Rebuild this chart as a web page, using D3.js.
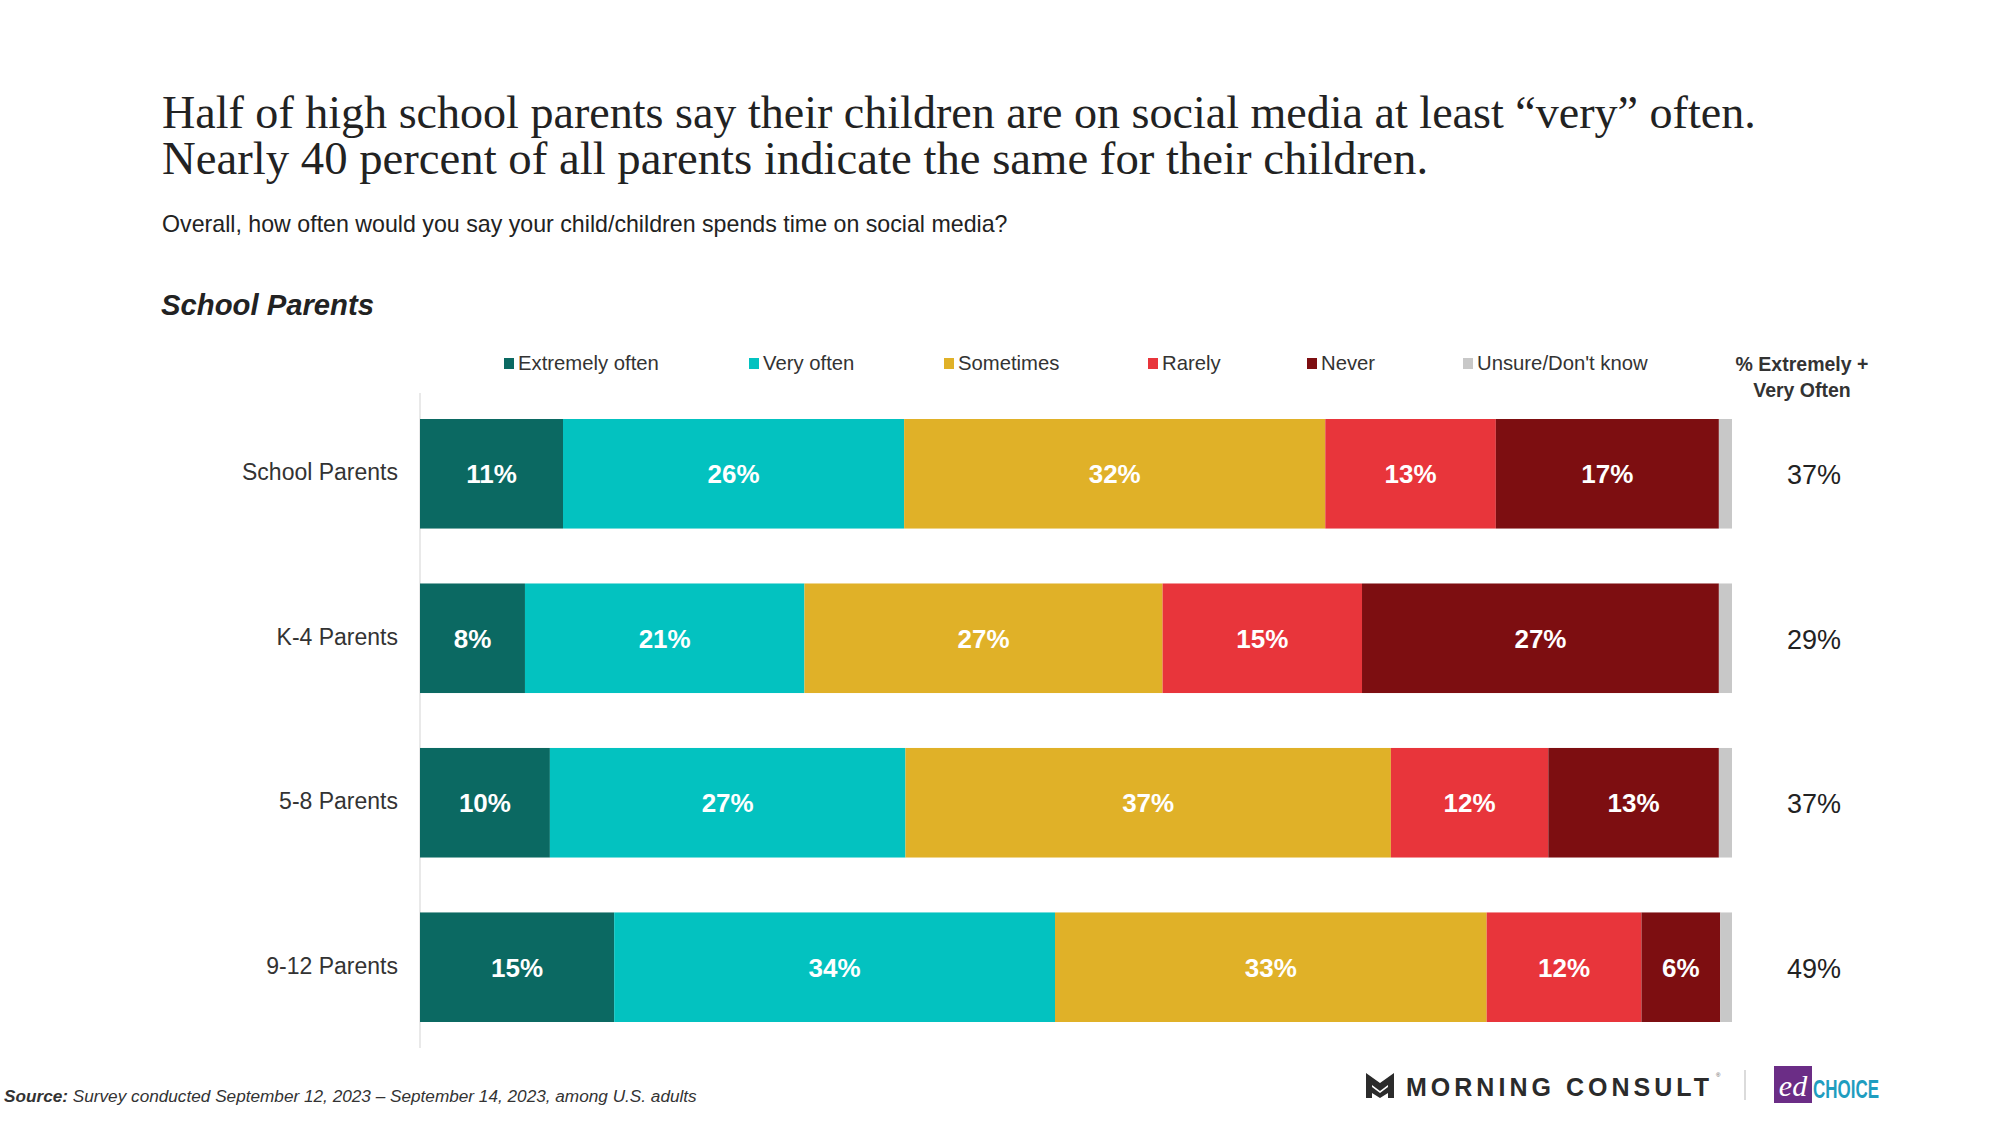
<!DOCTYPE html>
<html>
<head>
<meta charset="utf-8">
<script src="https://cdn.jsdelivr.net/npm/d3@7"></script>
<style>
html,body{margin:0;padding:0;background:#fff;}
svg{display:block;}
</style>
</head>
<body>
<svg id="chart" width="2000" height="1123"></svg>
<script>
// ---- data ----
const titleLines = [
  "Half of high school parents say their children are on social media at least \u201cvery\u201d often.",
  "Nearly 40 percent of all parents indicate the same for their children."
];
const subtitle = "Overall, how often would you say your child/children spends time on social media?";
const sectionTitle = "School Parents";
const categories = ["School Parents", "K-4 Parents", "5-8 Parents", "9-12 Parents"];
const seriesNames = ["Extremely often", "Very often", "Sometimes", "Rarely", "Never", "Unsure/Don't know"];
const extremelyOften = [10.9, 8.0, 9.9, 14.8];
const veryOften      = [26.0, 21.3, 27.1, 33.6];
const sometimes      = [32.1, 27.3, 37.0, 32.9];
const rarely         = [13.0, 15.2, 12.0, 11.8];
const never          = [17.0, 27.2, 13.0, 6.0];
const unsure         = [1.0, 1.0, 1.0, 0.9];
const barLabels = [
  ["11%", "26%", "32%", "13%", "17%"],
  ["8%", "21%", "27%", "15%", "27%"],
  ["10%", "27%", "37%", "12%", "13%"],
  ["15%", "34%", "33%", "12%", "6%"]
];
const totalHeader = ["% Extremely +", "Very Often"];
const totals = ["37%", "29%", "37%", "49%"];
const colors = ["#0b6962", "#03c2c0", "#e0b128", "#e8353b", "#7d0e11", "#c8c8c8"];
const sourceLabel = "Source:";
const sourceText = " Survey conducted September 12, 2023 \u2013 September 14, 2023, among U.S. adults";

// ---- build ----
const svg = d3.select("#chart");
const sans = "Arial, 'Liberation Sans', Helvetica, sans-serif";
const serif = "Georgia, 'Liberation Serif', 'DejaVu Serif', serif";

function fitText(sel, target) {
  const w = sel.node().getComputedTextLength();
  const fs = parseFloat(sel.attr("font-size"));
  sel.attr("font-size", (fs * target / w).toFixed(2));
}

// Title
const titleTargets = [1594, 1266];
titleLines.forEach((t, i) => {
  const tx = svg.append("text")
    .attr("x", 162).attr("y", 128 + i * 46)
    .attr("font-family", serif).attr("font-size", 42)
    .attr("fill", "#222").text(t);
  fitText(tx, titleTargets[i]);
});

const sub = svg.append("text").attr("x", 162).attr("y", 232)
  .attr("font-family", sans).attr("font-size", 22).attr("fill", "#222").text(subtitle);
fitText(sub, 846);

const sec = svg.append("text").attr("x", 161).attr("y", 315)
  .attr("font-family", sans).attr("font-size", 27).attr("font-weight", "bold")
  .attr("font-style", "italic").attr("fill", "#222").text(sectionTitle);
fitText(sec, 213);

// Scales
const x = d3.scaleLinear().domain([0, 100]).range([420, 1732]);
const y = d3.scaleBand().domain(categories).range([419, 1022]).paddingInner(0.334).paddingOuter(0);

const rows = categories.map((c, i) => ({
  cat: c,
  "Extremely often": extremelyOften[i],
  "Very often": veryOften[i],
  "Sometimes": sometimes[i],
  "Rarely": rarely[i],
  "Never": never[i],
  "Unsure/Don't know": unsure[i]
}));
const stack = d3.stack().keys(seriesNames)(rows);
const color = d3.scaleOrdinal().domain(seriesNames).range(colors);

// axis line
svg.append("line").attr("x1", x(0)).attr("x2", x(0)).attr("y1", 393).attr("y2", 1048)
  .attr("stroke", "#e2e2e2").attr("stroke-width", 1.5);

const layers = svg.append("g").selectAll("g").data(stack).join("g")
  .attr("fill", d => color(d.key));
layers.selectAll("rect").data(d => d).join("rect")
  .attr("x", d => x(d[0]))
  .attr("y", d => y(d.data.cat))
  .attr("width", d => x(d[1]) - x(d[0]))
  .attr("height", y.bandwidth());

// bar labels
stack.slice(0, 5).forEach((layer, si) => {
  svg.append("g").selectAll("text").data(layer).join("text")
    .attr("x", d => (x(d[0]) + x(d[1])) / 2)
    .attr("y", d => y(d.data.cat) + y.bandwidth() / 2)
    .attr("dy", "0.36em")
    .attr("text-anchor", "middle")
    .attr("font-family", sans).attr("font-size", 26).attr("font-weight", "bold")
    .attr("fill", "#fff")
    .text((d, i) => barLabels[i][si]);
});

// category labels
svg.append("g").selectAll("text").data(categories).join("text")
  .attr("x", 398)
  .attr("y", d => y(d) + y.bandwidth() / 2 - 2)
  .attr("dy", "0.36em")
  .attr("text-anchor", "end")
  .attr("font-family", sans).attr("font-size", 23).attr("fill", "#333")
  .text(d => d);

// totals
svg.append("g").selectAll("text").data(categories).join("text")
  .attr("x", 1814)
  .attr("y", d => y(d) + y.bandwidth() / 2 + 1)
  .attr("dy", "0.36em")
  .attr("text-anchor", "middle")
  .attr("font-family", sans).attr("font-size", 27).attr("fill", "#222")
  .text((d, i) => totals[i]);

totalHeader.forEach((t, i) => {
  svg.append("text").attr("x", 1802).attr("y", 371 + i * 26)
    .attr("text-anchor", "middle")
    .attr("font-family", sans).attr("font-size", 19.5).attr("font-weight", "bold")
    .attr("fill", "#333").text(t);
});

// legend
const legendX = [504, 749, 944, 1148, 1307, 1463];
const lg = svg.append("g").selectAll("g").data(seriesNames).join("g")
  .attr("transform", (d, i) => `translate(${legendX[i]},363)`);
lg.append("rect").attr("x", 0).attr("y", -5).attr("width", 10).attr("height", 11)
  .attr("fill", d => color(d));
lg.append("text").attr("x", 14).attr("y", 0).attr("dy", "0.36em")
  .attr("font-family", sans).attr("font-size", 20.3).attr("fill", "#333")
  .text(d => d);

// source
const src = svg.append("text").attr("x", 4).attr("y", 1102)
  .attr("font-family", sans).attr("font-size", 17.2).attr("font-style", "italic").attr("fill", "#333");
src.append("tspan").attr("font-weight", "bold").text(sourceLabel);
src.append("tspan").text(sourceText);

// logos
const mc = svg.append("g").attr("transform", "translate(1366,1073)");
mc.append("path")
  .attr("d", "M0,0 L14,10 L28,0 L28,25 L22,25 L22,12 L14,18 L6,12 L6,25 L0,25 Z")
  .attr("fill", "#2b2b2b");
mc.append("path").attr("d", "M6,14 L14,20 L22,14 L22,20 L14,25 L6,20 Z").attr("fill", "#2b2b2b");
mc.append("text").attr("x", 40).attr("y", 23)
  .attr("font-family", sans).attr("font-size", 25).attr("font-weight", "bold")
  .attr("fill", "#2b2b2b").attr("textLength", 303).attr("lengthAdjust", "spacing")
  .text("MORNING CONSULT");
mc.append("text").attr("x", 350).attr("y", 4).attr("font-family", sans).attr("font-size", 6)
  .attr("fill", "#555").text("\u00ae");
svg.append("line").attr("x1", 1745).attr("x2", 1745).attr("y1", 1070).attr("y2", 1100)
  .attr("stroke", "#cfcfcf").attr("stroke-width", 1.5);
svg.append("rect").attr("x", 1774).attr("y", 1066).attr("width", 38).attr("height", 37).attr("fill", "#6b2d86");
svg.append("text").attr("x", 1793).attr("y", 1096).attr("text-anchor", "middle")
  .attr("font-family", serif).attr("font-style", "italic").attr("font-size", 30)
  .attr("fill", "#fff").text("ed");
const ch = svg.append("text").attr("x", 1813).attr("y", 1098)
  .attr("font-family", "'Liberation Sans Narrow', 'Arial Narrow', " + sans)
  .attr("font-weight", "bold").attr("font-size", 26).attr("fill", "#1f9dbf").text("CHOICE");
ch.attr("textLength", 66).attr("lengthAdjust", "spacingAndGlyphs");
</script>
</body>
</html>
